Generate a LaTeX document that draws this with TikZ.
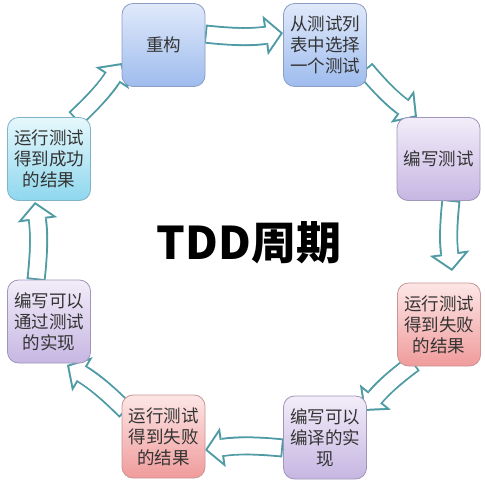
\documentclass[tikz,border=0pt]{standalone}
\usepackage{fontspec}
\newfontfamily\cjk{Noto Sans CJK SC}
\usetikzlibrary{arrows.meta,calc}
\definecolor{arrowc}{RGB}{78,155,165}
\definecolor{blueT}{RGB}{224,233,250}
\definecolor{blueB}{RGB}{158,188,238}
\definecolor{blueD}{RGB}{140,158,196}
\definecolor{purpT}{RGB}{242,237,249}
\definecolor{purpB}{RGB}{198,182,226}
\definecolor{purpD}{RGB}{160,150,185}
\definecolor{pinkT}{RGB}{253,230,230}
\definecolor{pinkB}{RGB}{240,155,155}
\definecolor{pinkD}{RGB}{200,150,150}
\definecolor{cyanT}{RGB}{230,248,252}
\definecolor{cyanB}{RGB}{142,215,238}
\definecolor{cyanD}{RGB}{130,178,198}
\newcommand\blockarrow[2]{%
  \draw[arrowc, line width=19pt, -{Triangle[length=18pt,width=40pt,line width=0pt]}] (#1) to[bend right=7] (#2);
  \draw[white, line width=15pt, shorten <=2pt, shorten >=2.7pt, -{Triangle[length=13.3pt,width=29.6pt,line width=0pt]}] (#1) to[bend right=7] (#2);
  \draw[white, line width=15pt, shorten <=2pt, shorten >=11pt] (#1) to[bend right=7] (#2);
}
\begin{document}
\begin{tikzpicture}[x=1pt,y=-1pt,
  box/.style={rectangle, rounded corners=11pt, minimum width=83pt, minimum height=83pt,
    inner sep=0pt, align=center, line width=0.8pt,
    font=\cjk\fontsize{17.5}{21}\selectfont, text=black!80},
  bluebox/.style={box, top color=blueT, bottom color=blueB, draw=blueD},
  purpbox/.style={box, top color=purpT, bottom color=purpB, draw=purpD},
  pinkbox/.style={box, top color=pinkT, bottom color=pinkB, draw=pinkD},
  cyanbox/.style={box, top color=cyanT, bottom color=cyanB, draw=cyanD},
  title/.style={font=\cjk\bfseries\fontsize{45}{50}\selectfont, text=black}]
\fill[white] (0,0) rectangle (485,483);
\useasboundingbox (0,0) rectangle (485,483);

% arrow end points
\coordinate (a1s) at (205,34);  \coordinate (a1e) at (283,33);
\coordinate (a2s) at (365,69);  \coordinate (a2e) at (417,117);
\coordinate (a3s) at (451,200); \coordinate (a3e) at (452,271);
\coordinate (a4s) at (414,363); \coordinate (a4e) at (364,411);
\coordinate (a5s) at (283,448); \coordinate (a5e) at (205,450);
\coordinate (a6s) at (126,411); \coordinate (a6e) at (67,365);
\coordinate (a7s) at (36,280);  \coordinate (a7e) at (35,202);
\coordinate (a8s) at (75,119);  \coordinate (a8e) at (122,63);

\blockarrow{a1s}{a1e}
\blockarrow{a2s}{a2e}
\blockarrow{a3s}{a3e}
\blockarrow{a4s}{a4e}
\blockarrow{a5s}{a5e}
\blockarrow{a6s}{a6e}
\blockarrow{a7s}{a7e}
\blockarrow{a8s}{a8e}

\node[bluebox] (b1) at (163.5,45) {重构};
\node[bluebox] (b2) at (325,45) {从测试列\\表中选择\\一个测试};
\node[purpbox] (b3) at (438.5,159) {编写测试};
\node[pinkbox] (b4) at (439,324.5) {运行测试\\得到失败\\的结果};
\node[purpbox] (b5) at (325,437.5) {编写可以\\编译的实\\现};
\node[pinkbox] (b6) at (163.5,436.5) {运行测试\\得到失败\\的结果};
\node[purpbox] (b7) at (49,321.5) {编写可以\\通过测试\\的实现};
\node[cyanbox] (b8) at (49,159) {运行测试\\得到成功\\的结果};

\node[title] (t) at (249,243) {TDD周期};
\end{tikzpicture}
\end{document}
